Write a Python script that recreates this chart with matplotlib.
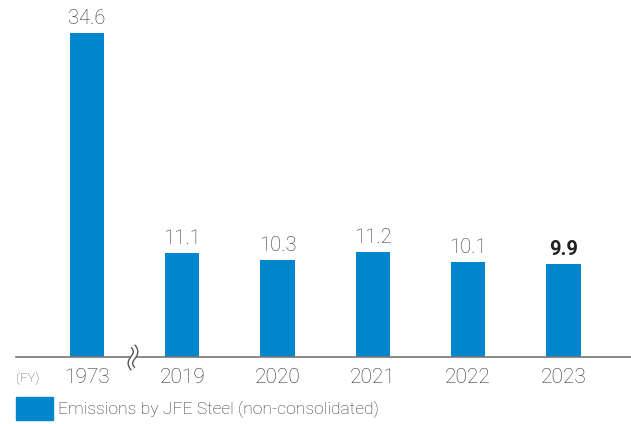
import numpy as np
import matplotlib
matplotlib.use('Agg')
import matplotlib.pyplot as plt
from matplotlib.lines import Line2D

years = ['1973', '2019', '2020', '2021', '2022', '2023']
emissions = [34.6, 11.1, 10.3, 11.2, 10.1, 9.9]
value_labels = ['34.6', '11.1', '10.3', '11.2', '10.1', '9.9']
legend_label = 'Emissions by JFE Steel (non-consolidated)'

plt.rcParams['font.family'] = ['Roboto', 'DejaVu Sans']

BLUE = '#0086CD'
TXT = '#333333'

W, H = 631, 424
fig = plt.figure(figsize=(W / 100, H / 100), dpi=100)
# axes spans from x=16px to right edge, baseline at y=357px
ax = fig.add_axes([16 / W, (H - 357) / H, (W - 16) / W, 357 / H])

x = np.arange(len(years))
ax.bar(x, emissions, width=0.36, color=BLUE, zorder=2)
ax.set_xlim(-0.746, 5.71)
ax.set_ylim(0, 38.1)

for i, (v, s) in enumerate(zip(emissions, value_labels)):
    last = i == len(years) - 1
    ax.text(i, v + 0.55, s, ha='center', va='bottom', fontsize=14.5,
            color='#222222' if last else TXT,
            fontweight='bold' if last else 'light')

for s in ['top', 'right', 'left']:
    ax.spines[s].set_visible(False)
ax.spines['bottom'].set_color('#777777')
ax.spines['bottom'].set_linewidth(1.2)
ax.set_yticks([])
ax.set_xticks(x)
ax.set_xticklabels(years, fontsize=15, color=TXT, fontweight='light')
ax.tick_params(axis='x', length=0, pad=8)

# axis break mark (double S-curve) between 1973 and 2019
t = np.linspace(0, 1, 60)
bx = (133 + 2.6 * np.sin(2 * np.pi * t)) / W
by = 1 - (346 + 23 * t) / H
fig.add_artist(Line2D(bx, by, transform=fig.transFigure, color='#555555', lw=4.2,
                      solid_capstyle='butt', zorder=10))
fig.add_artist(Line2D(bx, by, transform=fig.transFigure, color='white', lw=2.2,
                      solid_capstyle='butt', zorder=11))

fig.text(16 / W, 1 - 378 / H, '(FY)', fontsize=9.5, color='#555555', va='center', ha='left',
         fontweight='light')

# legend
fig.patches.append(plt.Rectangle((16 / W, 1 - 420 / H), 37 / W, 23 / H,
                                 transform=fig.transFigure, color=BLUE))
fig.text(58 / W, 1 - 409 / H, legend_label, fontsize=12.6, color=TXT, va='center', ha='left',
         fontweight='light')

plt.savefig('out.png', dpi=100)
